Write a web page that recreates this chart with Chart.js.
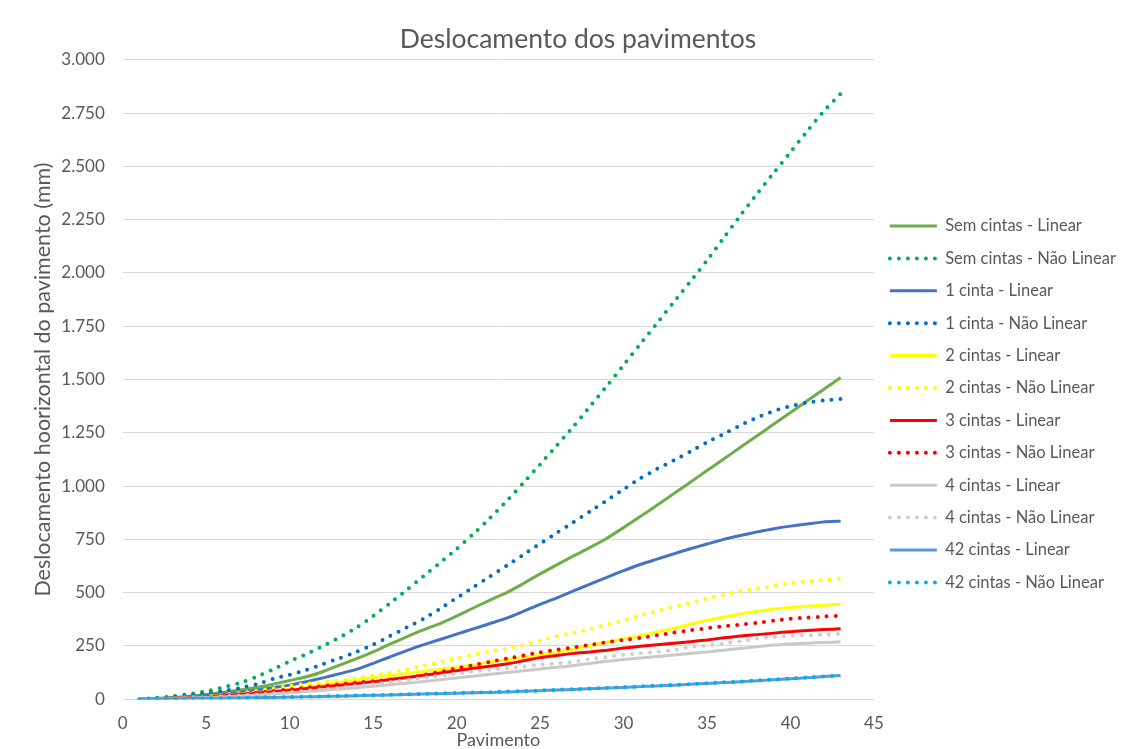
<!DOCTYPE html>
<html>
<head>
<meta charset="utf-8">
<script src="https://cdn.jsdelivr.net/npm/chart.js@4.4.1/dist/chart.umd.min.js"></script>
<style>
  html, body { margin: 0; padding: 0; background: #fff; }
  #wrap { width: 1130px; height: 749px; }
</style>
</head>
<body>
<div id="wrap"><canvas id="deslocChart"></canvas></div>
<script>
// pavimentos (floors) and horizontal displacement per floor, in mm
const pavimentos = [1, 2, 3, 4, 5, 6, 7, 8, 9, 10, 11, 12, 13, 14, 15, 16, 17, 18, 19, 20, 21, 22,
  23, 24, 25, 26, 27, 28, 29, 30, 31, 32, 33, 34, 35, 36, 37, 38, 39, 40, 41, 42, 43];

const semCintasLinear = [0, 3, 8, 14, 22, 32, 43, 55, 70, 88, 105, 130, 160, 190, 222, 258, 292, 325, 355, 390,
  428, 465, 500, 543, 588, 630, 672, 712, 755, 805, 857, 910, 964, 1018, 1073, 1127, 1182, 1236, 1291, 1345,
  1400, 1454, 1509];
const semCintasNaoLinear = [0, 6, 14, 24, 38, 55, 76, 105, 140, 178, 212, 250, 290, 336, 390, 450, 512, 576, 640,
  705, 775, 850, 930, 1015, 1102, 1190, 1280, 1375, 1470, 1568, 1666, 1764, 1862, 1960, 2059, 2165, 2270, 2372,
  2470, 2567, 2665, 2760, 2840];
const umaCintaLinear = [0, 2, 6, 11, 17, 24, 32, 42, 54, 66, 82, 100, 120, 140, 168, 198, 228, 255, 280, 305, 330,
  355, 380, 412, 445, 475, 508, 540, 572, 603, 632, 657, 682, 706, 728, 750, 768, 785, 800, 812, 822, 832, 835];
const umaCintaNaoLinear = [0, 4, 10, 17, 27, 38, 52, 70, 95, 115, 137, 165, 193, 222, 256, 296, 336, 376, 424, 475,
  525, 576, 627, 678, 730, 780, 830, 882, 933, 985, 1036, 1080, 1120, 1162, 1205, 1245, 1285, 1322, 1352, 1375,
  1392, 1402, 1408];
const duasCintasLinear = [0, 2, 4, 7, 12, 17, 23, 30, 38, 47, 57, 67, 78, 90, 100, 110, 120, 130, 140, 150, 162, 175,
  185, 196, 208, 220, 235, 252, 268, 282, 298, 315, 333, 352, 370, 385, 400, 412, 423, 430, 436, 441, 445];
const duasCintasNaoLinear = [0, 2, 5, 9, 14, 20, 28, 38, 50, 62, 72, 80, 88, 100, 112, 124, 140, 158, 175, 192, 208,
  224, 238, 255, 275, 295, 312, 330, 350, 370, 392, 413, 433, 452, 472, 490, 507, 520, 533, 543, 552, 560, 566];
const tresCintasLinear = [0, 2, 4, 7, 11, 16, 22, 28, 35, 42, 50, 58, 66, 74, 82, 92, 102, 112, 123, 134, 145, 155,
  165, 180, 195, 205, 215, 222, 230, 240, 248, 256, 263, 270, 278, 288, 296, 303, 310, 317, 322, 327, 330];
const tresCintasNaoLinear = [0, 2, 4, 7, 11, 16, 22, 30, 38, 46, 54, 62, 70, 78, 84, 92, 100, 113, 128, 144, 160, 175,
  190, 205, 220, 232, 243, 255, 268, 278, 288, 300, 312, 323, 333, 342, 350, 358, 368, 377, 383, 388, 392];
const quatroCintasLinear = [0, 1, 3, 5, 8, 11, 15, 20, 25, 30, 36, 42, 48, 54, 61, 68, 75, 83, 91, 100, 108, 117,
  125, 133, 142, 150, 158, 168, 178, 186, 193, 200, 207, 214, 222, 230, 238, 246, 254, 259, 263, 266, 269];
const quatroCintasNaoLinear = [0, 1, 3, 6, 9, 13, 17, 22, 27, 33, 40, 47, 54, 62, 70, 80, 90, 100, 110, 120, 130,
  138, 145, 153, 162, 168, 175, 188, 198, 208, 215, 222, 230, 245, 252, 262, 272, 285, 292, 298, 300, 303, 306];
const cintas42Linear = [0, 1, 2, 3, 4, 5, 6, 7, 8, 10, 11, 13, 14, 16, 18, 20, 22, 24, 26, 28, 30, 32, 34, 37, 40,
  43, 46, 49, 52, 55, 59, 62, 66, 70, 74, 78, 82, 86, 91, 96, 101, 106, 111];
const cintas42NaoLinear = [0, 1, 2, 3, 4, 5, 6, 8, 9, 10, 12, 13, 15, 17, 19, 21, 23, 25, 27, 29, 31, 33, 36, 38, 41,
  44, 47, 50, 53, 57, 60, 64, 67, 71, 75, 79, 83, 88, 92, 97, 102, 107, 112];

const seriesNames = ['Sem cintas - Linear', 'Sem cintas - Não Linear', '1 cinta - Linear', '1 cinta - Não Linear',
  '2 cintas - Linear', '2 cintas - Não Linear', '3 cintas - Linear', '3 cintas - Não Linear',
  '4 cintas - Linear', '4 cintas - Não Linear', '42 cintas - Linear', '42 cintas - Não Linear'];
const seriesValues = [semCintasLinear, semCintasNaoLinear, umaCintaLinear, umaCintaNaoLinear,
  duasCintasLinear, duasCintasNaoLinear, tresCintasLinear, tresCintasNaoLinear,
  quatroCintasLinear, quatroCintasNaoLinear, cintas42Linear, cintas42NaoLinear];
const seriesColors = ['#70AD47', '#00B050', '#4472C4', '#0070C0', '#FFFF00', '#FFFF00',
  '#FF0000', '#FF0000', '#C9C9C9', '#D0CECE', '#5B9BD5', '#00B0F0'];

const FONT = 'Lato, "Open Sans", sans-serif';
const GREY = '#595959';

// 3.000 style thousands separator
function fmtMil(v) {
  return String(v).replace(/\B(?=(\d{3})+(?!\d))/g, '.');
}

const datasets = seriesNames.map(function (name, i) {
  const dotted = name.indexOf('Não') !== -1;
  return {
    label: name,
    data: seriesValues[i],
    borderColor: seriesColors[i],
    backgroundColor: seriesColors[i],
    borderWidth: dotted ? 4 : 3,
    borderDash: dotted ? [0, 9] : [],
    borderCapStyle: dotted ? 'round' : 'butt',
    pointRadius: 0,
    tension: 0.2,
    fill: false,
    order: seriesNames.length - i   // later series painted on top
  };
});

const ctx = document.getElementById('deslocChart').getContext('2d');
new Chart(ctx, {
  type: 'line',
  data: { labels: pavimentos, datasets: datasets },
  options: {
    responsive: true,
    maintainAspectRatio: false,
    animation: false,
    layout: { padding: { top: 12, left: 30, right: 4, bottom: 0 } },
    plugins: {
      title: {
        display: true,
        text: 'Deslocamento dos pavimentos',
        color: GREY,
        font: { family: FONT, size: 26.5, weight: 'normal' },
        padding: { top: 12, bottom: 4 }
      },
      legend: {
        position: 'right',
        // empty title only pushes the entries down a bit
        title: {
          display: true,
          text: ' ',
          color: 'rgba(0,0,0,0)',
          font: { size: 10, lineHeight: 1 },
          padding: { top: 37.4, bottom: 0 }
        },
        labels: {
          usePointStyle: true,
          pointStyle: 'line',
          pointStyleWidth: 47,
          padding: 15.9,
          color: GREY,
          font: { family: FONT, size: 16.5 },
          generateLabels: function (chart) {
            return chart.data.datasets.map(function (ds, i) {
              return {
                text: ds.label,
                fontColor: GREY,
                strokeStyle: ds.borderColor,
                fillStyle: ds.borderColor,
                lineWidth: ds.borderWidth,
                lineDash: ds.borderDash,
                lineCap: ds.borderCapStyle,
                pointStyle: 'line',
                hidden: false,
                datasetIndex: i
              };
            });
          }
        }
      },
      tooltip: { enabled: false }
    },
    scales: {
      x: {
        type: 'linear',
        min: 0,
        max: 45,
        ticks: { stepSize: 5, color: GREY, font: { family: FONT, size: 17 }, padding: 13.8 },
        grid: { display: false, drawTicks: false },
        border: { display: false },
        title: {
          display: true,
          text: 'Pavimento',
          color: GREY,
          font: { family: FONT, size: 18, lineHeight: 1 },
          padding: { top: -16.2, bottom: 0 }
        }
      },
      y: {
        min: 0,
        max: 3000,
        ticks: { stepSize: 250, color: GREY, font: { family: FONT, size: 17 }, padding: 18, callback: fmtMil },
        grid: { color: '#D9D9D9', drawTicks: false },
        border: { display: false },
        title: {
          display: true,
          text: 'Deslocamento hoorizontal do pavimento (mm)',
          color: GREY,
          font: { family: FONT, size: 21.5 },
          padding: { top: 0, bottom: -12.5 }
        }
      }
    }
  }
});
</script>
</body>
</html>
